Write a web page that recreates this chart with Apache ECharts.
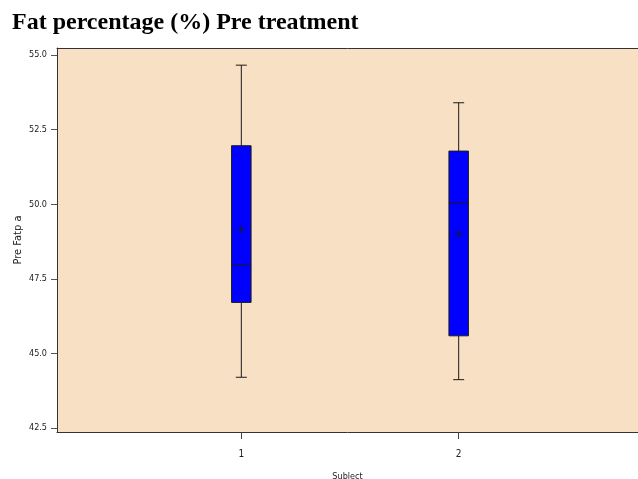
<!DOCTYPE html>
<html>
<head>
<meta charset="utf-8">
<script src="https://cdn.jsdelivr.net/npm/echarts@6/dist/echarts.min.js"></script>
<style>html,body{margin:0;padding:0;background:#fff;overflow:hidden}#c{width:638px;height:479px}</style>
</head>
<body>
<div id="c"></div>
<script>
const subjects = [1, 2];
const whiskerLow = [44.20, 44.12];
const q1 = [46.71, 45.59];
const median = [47.95, 50.03];
const q3 = [51.96, 51.78];
const whiskerHigh = [54.66, 53.40];
const means = [49.16, 49.00];
const yTicks = [42.5, 45.0, 47.5, 50.0, 52.5, 55.0];
const xTicks = [1, 2];

const font = "'Liberation Sans Narrow', 'DejaVu Sans Condensed', sans-serif";
const data = subjects.map((s, i) => [s, whiskerLow[i], q1[i], median[i], q3[i], whiskerHigh[i], means[i]]);

const chart = echarts.init(document.getElementById('c'), null, { width: 638, height: 479 });
chart.setOption({
  animation: false,
  title: {
    text: 'Fat percentage (%) Pre treatment',
    left: 12, top: 11, padding: 0,
    textStyle: { fontFamily: "'Liberation Serif', serif", fontWeight: 'bold', fontSize: 24, color: '#000' }
  },
  grid: { left: 57, top: 48, right: 0, bottom: 47, outerBoundsMode: 'none', containLabel: false,
    show: true, backgroundColor: '#F8E0C4', borderWidth: 0 },
  xAxis: [{
    type: 'value', min: 0.152, max: 2.825,
    name: 'Sublect', nameLocation: 'middle', nameGap: 40,
    nameTextStyle: { fontFamily: font, fontSize: 9, color: '#222' },
    axisLine: { show: true, onZero: false, lineStyle: { color: '#333', width: 1 } },
    axisTick: { show: true, length: 7, customValues: xTicks, lineStyle: { color: '#444' } },
    axisLabel: { customValues: xTicks, margin: 17, fontFamily: font, fontSize: 10, color: '#222' },
    splitLine: { show: false }
  }, {
    type: 'value', position: 'top', min: 0.152, max: 2.825,
    axisLine: { show: true, onZero: false, lineStyle: { color: '#333', width: 1 } },
    axisTick: { show: false }, axisLabel: { show: false }, splitLine: { show: false }
  }],
  yAxis: {
    type: 'value', min: 42.366, max: 55.235,
    name: 'Pre Fatp a', nameLocation: 'middle', nameGap: 33, nameMoveOverlap: false,
    nameTextStyle: { fontFamily: font, fontSize: 11, color: '#222' },
    axisLine: { show: true, onZero: false, lineStyle: { color: '#333', width: 1 } },
    axisTick: { show: true, length: 6, customValues: yTicks, lineStyle: { color: '#555' } },
    axisLabel: { customValues: yTicks, margin: 10, fontFamily: font, fontSize: 9, color: '#222',
      formatter: v => v.toFixed(1) },
    splitLine: { show: false }
  },
  series: [{
    type: 'custom',
    xAxisIndex: 0, yAxisIndex: 0,
    encode: { x: 0, y: [1, 2, 3, 4, 5, 6] },
    renderItem: function (params, api) {
      const x = api.value(0);
      const pLow = api.coord([x, api.value(1)]);
      const pQ1 = api.coord([x, api.value(2)]);
      const pMed = api.coord([x, api.value(3)]);
      const pQ3 = api.coord([x, api.value(4)]);
      const pHigh = api.coord([x, api.value(5)]);
      const pMean = api.coord([x, api.value(6)]);
      const cx = pLow[0];
      const bw = 19.5, cw = 11, pm = 4;
      const ls = { stroke: '#1a1a1a', lineWidth: 1 };
      return {
        type: 'group',
        children: [
          { type: 'line', shape: { x1: cx, y1: pHigh[1], x2: cx, y2: pQ3[1] }, style: ls },
          { type: 'line', shape: { x1: cx, y1: pQ1[1], x2: cx, y2: pLow[1] }, style: ls },
          { type: 'line', shape: { x1: cx - cw / 2, y1: pHigh[1], x2: cx + cw / 2, y2: pHigh[1] }, style: ls },
          { type: 'line', shape: { x1: cx - cw / 2, y1: pLow[1], x2: cx + cw / 2, y2: pLow[1] }, style: ls },
          { type: 'rect', shape: { x: cx - bw / 2, y: pQ3[1], width: bw, height: pQ1[1] - pQ3[1] },
            style: { fill: '#0000FF', stroke: '#1a1a1a', lineWidth: 1 } },
          { type: 'line', shape: { x1: cx - bw / 2, y1: pMed[1], x2: cx + bw / 2, y2: pMed[1] }, style: ls },
          { type: 'line', shape: { x1: cx - pm, y1: pMean[1], x2: cx + pm, y2: pMean[1] }, style: ls },
          { type: 'line', shape: { x1: cx, y1: pMean[1] - pm, x2: cx, y2: pMean[1] + pm }, style: ls }
        ]
      };
    },
    data: data
  }]
});
</script>
</body>
</html>
